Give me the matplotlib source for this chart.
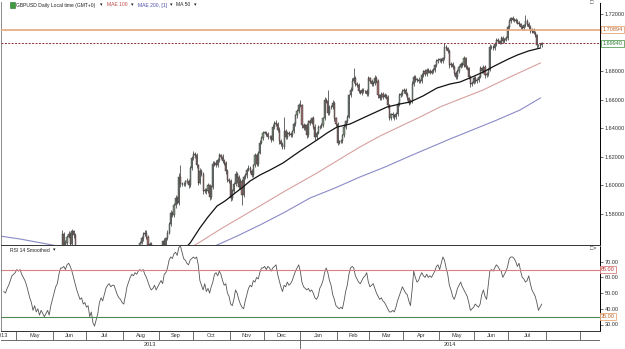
import numpy as np
import pandas as pd
import matplotlib
matplotlib.use("Agg")
import matplotlib.pyplot as plt
import matplotlib.transforms as mtrans
from matplotlib.patches import Rectangle

# ─── DAILY CLOSES, GBPUSD 19 Apr 2013 -> 29 Jul 2014 (one month per line) ───
first_open = 1.527
closes = [
    1.523, 1.526, 1.521, 1.527, 1.537, 1.542, 1.549, 1.553,
    1.554, 1.555, 1.553, 1.552, 1.548, 1.553, 1.552, 1.545, 1.537, 1.531, 1.528, 1.524, 1.519, 1.517, 1.521, 1.512, 1.514, 1.512, 1.508, 1.506, 1.513, 1.518, 1.520,
    1.532, 1.538, 1.548, 1.552, 1.553, 1.566, 1.556, 1.560, 1.564, 1.566, 1.559, 1.568, 1.565, 1.549, 1.543, 1.542, 1.545, 1.541, 1.528, 1.521,
    1.521, 1.524, 1.528, 1.515, 1.489, 1.486, 1.490, 1.508, 1.500, 1.512, 1.510, 1.518, 1.521, 1.530, 1.535, 1.533, 1.535, 1.536, 1.533, 1.534, 1.528, 1.537, 1.520,
    1.519, 1.531, 1.535, 1.537, 1.548, 1.550, 1.551, 1.549, 1.545, 1.554, 1.560, 1.563, 1.566, 1.567, 1.564, 1.558, 1.559, 1.556, 1.553, 1.556, 1.551, 1.550,
    1.555, 1.557, 1.561, 1.554, 1.563, 1.567, 1.573, 1.581, 1.579, 1.586, 1.591, 1.588, 1.606, 1.601, 1.601, 1.601, 1.603, 1.603, 1.600, 1.612, 1.619,
    1.622, 1.621, 1.614, 1.602, 1.610, 1.608, 1.596, 1.597, 1.596, 1.600, 1.592, 1.599, 1.615, 1.616, 1.614, 1.618, 1.621, 1.620, 1.617, 1.616, 1.610, 1.604, 1.603,
    1.591, 1.596, 1.601, 1.608, 1.606, 1.599, 1.603, 1.593, 1.606, 1.607, 1.611, 1.612, 1.610, 1.607, 1.614, 1.621, 1.615, 1.623, 1.630, 1.633, 1.637,
    1.637, 1.636, 1.634, 1.634, 1.632, 1.641, 1.644, 1.643, 1.639, 1.631, 1.629, 1.627, 1.638, 1.634, 1.637, 1.636, 1.635, 1.638, 1.643, 1.649, 1.652, 1.656,
    1.656, 1.642, 1.640, 1.642, 1.635, 1.645, 1.644, 1.647, 1.641, 1.634, 1.637, 1.641, 1.641, 1.642, 1.647, 1.660, 1.659, 1.651, 1.655, 1.655, 1.658, 1.647, 1.643,
    1.630, 1.631, 1.631, 1.635, 1.641, 1.645, 1.648, 1.663, 1.667, 1.673, 1.675, 1.671, 1.670, 1.666, 1.665, 1.667, 1.666, 1.666, 1.664, 1.675,
    1.673, 1.671, 1.672, 1.675, 1.673, 1.663, 1.661, 1.664, 1.662, 1.663, 1.662, 1.656, 1.647, 1.650, 1.649, 1.648, 1.650, 1.657, 1.663, 1.664, 1.666,
    1.667, 1.664, 1.661, 1.658, 1.659, 1.671, 1.676, 1.674, 1.674, 1.673, 1.673, 1.677, 1.680, 1.678, 1.681, 1.680, 1.679, 1.680, 1.681, 1.684, 1.687, 1.688,
    1.688, 1.687, 1.689, 1.697, 1.696, 1.694, 1.684, 1.685, 1.683, 1.679, 1.676, 1.680, 1.683, 1.685, 1.684, 1.689, 1.683, 1.682, 1.676, 1.671, 1.672, 1.675,
    1.673, 1.674, 1.676, 1.682, 1.680, 1.683, 1.677, 1.678, 1.681, 1.697, 1.697, 1.696, 1.699, 1.702, 1.701, 1.700, 1.703, 1.701, 1.702, 1.703, 1.711,
    1.715, 1.717, 1.716, 1.716, 1.715, 1.714, 1.713, 1.711, 1.710, 1.712, 1.715, 1.713, 1.711, 1.708, 1.709, 1.707, 1.705, 1.698, 1.698, 1.698, 1.6994,
]

# upper / lower wick beyond the body, in pips
wick_up = [
    14, 18, 10, 15, 22, 12, 16, 20,
    16, 11, 25, 13, 9, 18, 21, 12, 15, 10, 19, 14, 8, 17, 23, 11, 13, 20, 9, 16, 12, 18, 14,
    15, 10, 21, 13, 17, 30, 12, 19, 14, 24, 11, 16, 9, 20, 13, 18, 10, 15, 22, 12,
    14, 19, 11, 25, 16, 10, 18, 13, 21, 9, 17, 12, 20, 15, 11, 23, 14, 10, 19, 13, 16, 12, 18,
    11, 17, 13, 20, 9, 15, 22, 12, 18, 14, 10, 19, 13, 16, 21, 11, 15, 12, 18, 9, 14, 17,
    13, 16, 10, 21, 12, 18, 15, 19, 11, 14, 20, 13, 25, 80, 12, 16, 10, 19, 14, 13, 15,
    18, 12, 16, 10, 20, 13, 17, 11, 15, 19, 12, 14, 22, 10, 16, 13, 18, 11, 20, 14, 12, 17, 15,
    13, 16, 11, 18, 14, 10, 19, 12, 15, 17, 11, 20, 13, 16, 10, 18, 14, 12, 15, 19, 11,
    14, 12, 17, 10, 16, 19, 13, 15, 11, 18, 12, 14, 100, 16, 10, 13, 17, 11, 15, 12, 14, 18,
    40, 11, 15, 13, 19, 10, 16, 12, 14, 18, 11, 15, 13, 17, 10, 16, 12, 78, 14, 11, 15, 13, 12,
    14, 10, 16, 12, 18, 11, 15, 13, 17, 25, 73, 14, 12, 16, 10, 15, 13, 11, 14, 17,
    12, 15, 11, 25, 13, 16, 10, 14, 12, 17, 11, 15, 13, 10, 16, 12, 14, 11, 15, 13, 12,
    13, 11, 16, 12, 14, 18, 15, 11, 13, 16, 12, 14, 10, 15, 13, 11, 16, 12, 14, 10, 15, 13,
    12, 15, 11, 26, 14, 12, 16, 13, 11, 15, 12, 14, 10, 16, 13, 15, 11, 14, 12, 10, 13, 15,
    14, 11, 13, 16, 12, 15, 10, 14, 12, 18, 13, 11, 15, 12, 14, 10, 13, 16, 12, 14, 15,
    16, 12, 14, 11, 15, 13, 12, 10, 14, 12, 41, 13, 11, 15, 12, 14, 10, 13, 12, 14, 11,
]
wick_dn = [
    12, 15, 18, 10, 14, 16, 11, 13,
    14, 17, 12, 19, 22, 11, 15, 20, 13, 18, 12, 16, 21, 10, 14, 19, 12, 17, 15, 11, 18, 13, 16,
    12, 18, 14, 11, 16, 13, 20, 12, 15, 10, 19, 14, 17, 22, 12, 15, 18, 11, 16, 14,
    17, 12, 15, 20, 35, 14, 18, 11, 16, 13, 19, 12, 15, 10, 17, 14, 12, 16, 11, 18, 15, 13, 20,
    16, 12, 18, 14, 11, 15, 13, 17, 19, 12, 14, 10, 16, 13, 15, 18, 12, 14, 11, 16, 13, 15,
    14, 11, 16, 13, 12, 15, 10, 14, 13, 11, 15, 12, 14, 22, 16, 13, 15, 11, 17, 12, 14,
    13, 16, 20, 18, 12, 15, 22, 14, 17, 13, 20, 15, 12, 16, 14, 11, 13, 15, 12, 14, 17, 19, 13,
    22, 14, 16, 12, 40, 15, 13, 65, 14, 12, 15, 11, 16, 13, 14, 12, 15, 11, 13, 12, 14,
    13, 15, 12, 14, 16, 11, 13, 15, 17, 19, 14, 16, 12, 14, 13, 15, 11, 14, 12, 13, 15, 12,
    14, 16, 13, 12, 18, 11, 14, 13, 15, 19, 14, 12, 13, 11, 12, 14, 13, 16, 15, 12, 14, 17, 15,
    16, 12, 14, 11, 13, 12, 14, 11, 13, 12, 14, 16, 13, 15, 12, 14, 11, 13, 15, 12,
    13, 15, 12, 14, 11, 16, 13, 12, 15, 11, 13, 16, 14, 12, 15, 19, 13, 11, 12, 14, 13,
    12, 14, 15, 17, 13, 11, 12, 14, 13, 12, 15, 11, 13, 12, 14, 11, 13, 12, 11, 13, 12, 11,
    13, 12, 11, 12, 14, 16, 15, 13, 14, 16, 15, 12, 13, 11, 14, 12, 15, 13, 16, 18, 13, 12,
    14, 12, 13, 11, 14, 12, 15, 13, 12, 11, 13, 14, 12, 11, 13, 12, 11, 13, 12, 11, 12,
    13, 11, 12, 14, 12, 13, 11, 14, 13, 12, 11, 13, 14, 12, 13, 11, 14, 15, 13, 12, 14,
]

# RSI 14 smoothed, daily
rsi = [
    51, 50, 53, 55, 58, 61, 62, 63,
    65, 64, 65, 62, 60, 58, 55, 51, 47, 44, 39, 42, 38, 40, 36, 39, 37, 35, 37, 39, 36, 42, 46,
    50, 54, 56, 62, 66, 66, 67, 65, 68, 69, 67, 64, 60, 56, 52, 49, 46, 47, 43, 44,
    41, 42, 35, 38, 31, 29, 33, 37, 44, 47, 45, 49, 53, 55, 56, 54, 55, 55, 52, 49, 47, 46, 44,
    43, 48, 54, 57, 60, 62, 61, 63, 62, 64, 65, 64, 65, 62, 60, 57, 54, 52, 53, 55, 52, 54,
    56, 58, 56, 62, 63, 66, 71, 73, 72, 75, 76, 74, 79, 80, 76, 72, 71, 69, 68, 71, 72,
    73, 72, 73, 68, 58, 55, 52, 56, 51, 53, 50, 54, 57, 62, 63, 61, 64, 62, 58, 55, 56, 50, 48,
    43, 42, 46, 52, 50, 46, 43, 41, 40, 45, 49, 53, 55, 54, 58, 57, 60, 59, 63, 66, 66,
    67, 65, 67, 66, 64, 66, 67, 68, 62, 58, 54, 51, 55, 54, 57, 55, 56, 58, 61, 64, 66, 68,
    64, 57, 54, 53, 52, 53, 51, 52, 50, 47, 46, 48, 53, 55, 58, 63, 66, 63, 58, 55, 49, 46, 42,
    41, 40, 41, 40, 45, 51, 55, 62, 66, 67, 66, 61, 59, 57, 56, 58, 60, 61, 63, 57,
    54, 55, 56, 53, 50, 48, 46, 47, 45, 44, 42, 40, 38, 38, 39, 38, 41, 45, 48, 51, 54,
    52, 50, 49, 45, 42, 52, 64, 60, 57, 58, 61, 63, 61, 60, 62, 60, 61, 60, 62, 64, 67, 68,
    65, 69, 73, 71, 66, 62, 55, 52, 48, 46, 49, 53, 55, 57, 54, 52, 50, 48, 44, 39, 40, 41,
    43, 42, 41, 43, 49, 52, 48, 46, 55, 64, 65, 64, 66, 68, 67, 65, 64, 60, 62, 64, 67,
    72, 73, 73, 72, 70, 67, 69, 64, 60, 59, 57, 58, 61, 56, 52, 50, 48, 44, 39, 41, 43,
]

# moving averages (day index, price)
ma50_day = [105, 115, 121, 126, 131.6, 136.5, 142, 147.6, 152, 158.1, 164.3, 172.3, 182.9,
            193.3, 199.5, 205.7, 213.7, 223, 236.5, 244.5, 250.7, 258.7, 267.4, 275.4,
            281.6, 289, 296, 301.6, 306.5, 311.5, 317, 323.8, 331.2]
ma50_val = [1.5480, 1.5597, 1.5702, 1.5779, 1.5856, 1.5891, 1.5940, 1.5989, 1.6031, 1.6073,
            1.6108, 1.6157, 1.6241, 1.6318, 1.6367, 1.6409, 1.6430, 1.6479, 1.6549, 1.6570,
            1.6584, 1.6626, 1.6682, 1.6710, 1.6724, 1.6759, 1.6794, 1.6829, 1.6857, 1.6885,
            1.6913, 1.6941, 1.6962]
mae100_day = [110, 121.1, 133.4, 153.8, 173.6, 193.3, 207.5, 219.8, 232.2, 256.9, 269.2,
              281.6, 295.8, 312.4, 331.2]
mae100_val = [1.5530, 1.5604, 1.5692, 1.5828, 1.5961, 1.6087, 1.6185, 1.6269, 1.6346, 1.6479,
              1.6549, 1.6605, 1.6668, 1.6759, 1.6857]
mae200_day = [-2, 10, 29, 60, 100, 115, 131.6, 142.7, 158.1, 173.6, 189, 204.4, 219.8,
              235.3, 250.7, 275.4, 304.4, 318.6, 331.2]
mae200_val = [1.5645, 1.5625, 1.5585, 1.5520, 1.5480, 1.5520, 1.5583, 1.5639, 1.5723, 1.5814,
              1.5912, 1.5982, 1.6059, 1.6129, 1.6206, 1.6325, 1.6458, 1.6528, 1.6612]

resistance = 1.70894
last_price = 1.69940
rsi_hi, rsi_lo = 65, 35
price_ticks = [1.58, 1.60, 1.62, 1.64, 1.66, 1.68, 1.72]
rsi_ticks = [30, 40, 50, 60, 70]
month_names = ["May", "Jun", "Jul", "Aug", "Sep", "Oct", "Nov", "Dec",
               "Jan", "Feb", "Mar", "Apr", "May", "Jun", "Jul"]

assert len(closes) == len(wick_up) == len(wick_dn) == len(rsi) == 333

# ─── LAYOUT (pixels) ─────────────────────────────────────────────
W, H = 625, 349
PX_DAY = 1.62             # pixels per trading day
X0_PX, X0_DAY = 16, 7.5   # 1 May 2013 boundary
FONT = ["Liberation Sans Narrow", "Liberation Sans", "DejaVu Sans"]
plt.rcParams["font.family"] = FONT

def fx(px):
    return px / W

def fy(py):
    return 1 - py / H

def day_at(px):
    return X0_DAY + (px - X0_PX) / PX_DAY

xlo, xhi = day_at(1), day_at(600)

fig = plt.figure(figsize=(W / 100, H / 100), dpi=100)
ax = fig.add_axes([fx(1), fy(245), 599 / W, 243 / H])
axr = fig.add_axes([fx(1), fy(331), 599 / W, 85 / H])
axd = fig.add_axes([fx(1), fy(349), 599 / W, 18 / H])

# ─── CANDLES ─────────────────────────────────────────────────────
c = np.array(closes)
o = np.r_[first_open, c[:-1]]
x = np.arange(len(c))
hi = np.maximum(o, c) + np.array(wick_up) * 1e-4
lo = np.minimum(o, c) - np.array(wick_dn) * 1e-4
up = c >= o
ax.vlines(x, lo, hi, colors="#2e2e2e", lw=0.5, zorder=2)
ax.bar(x, np.maximum(np.abs(c - o), 2e-4), bottom=np.minimum(o, c), width=0.72,
       color=np.where(up, "#7f917f", "#a06f6f"), edgecolor="#2e2e2e", linewidth=0.3, zorder=3)

ax.plot(mae200_day, mae200_val, color="#8a8ac8", lw=0.8, zorder=1)
ax.plot(mae100_day, mae100_val, color="#d6a0a0", lw=0.8, zorder=1)
ax.plot(ma50_day, ma50_val, color="#111111", lw=0.9, zorder=4)

ax.axhline(resistance, color="#e8a77a", lw=1.2, zorder=5)
ax.axhline(last_price, color="#8e2f3c", lw=0.7, ls=(0, (2, 1.5)), zorder=5)

ax.set_xlim(xlo, xhi)
ax.set_ylim(1.72 - 231 / 1428.6, 1.72 + 12 / 1428.6)
ax.yaxis.tick_right()
ax.set_yticks(price_ticks)
ax.set_yticklabels([f"{t:.5f}" for t in price_ticks])
ax.set_xticks([])

blend = mtrans.blended_transform_factory(ax.transAxes, ax.transData)
ax.text(1.004, resistance, f"{resistance:.5f}", transform=blend, ha="left", va="center",
        fontsize=4, color="#c0622a", clip_on=False,
        bbox=dict(boxstyle="square,pad=0.2", fc="white", ec="#e8a77a", lw=0.6))
ax.text(1.004, last_price, f"{last_price:.5f}", transform=blend, ha="left", va="center",
        fontsize=4, color="#2e7d32", clip_on=False,
        bbox=dict(boxstyle="square,pad=0.2", fc="white", ec="#5aa05a", lw=0.6))

# ─── RSI PANEL ───────────────────────────────────────────────────
axr.plot(x, rsi, color="#555555", lw=0.6)
axr.axhline(rsi_hi, color="#d98080", lw=0.8)
axr.axhline(rsi_lo, color="#4f8a4f", lw=0.8)
axr.set_xlim(xlo, xhi)
axr.set_ylim(70 - 69.3 / 1.57, 70 + 15.7 / 1.57)
axr.yaxis.tick_right()
axr.set_yticks(rsi_ticks)
axr.set_yticklabels([f"{t:.2f}" for t in rsi_ticks])
axr.set_xticks([])
blend_r = mtrans.blended_transform_factory(axr.transAxes, axr.transData)
axr.text(1.002, rsi_hi, f"{rsi_hi:.2f}", transform=blend_r, ha="left", va="center",
         fontsize=4, color="#c03030", clip_on=False,
         bbox=dict(boxstyle="square,pad=0.2", fc="white", ec="#d98080", lw=0.6))
axr.text(1.002, rsi_lo, f"{rsi_lo:.2f}", transform=blend_r, ha="left", va="center",
         fontsize=4, color="#c0622a", clip_on=False,
         bbox=dict(boxstyle="square,pad=0.2", fc="white", ec="#e8a77a", lw=0.6))

for a in (ax, axr):
    a.tick_params(axis="y", labelsize=4, length=2, width=0.5, pad=1.5, colors="#333333")
    a.spines["right"].set_linestyle((0, (1, 1)))
    a.spines["right"].set_linewidth(0.7)
    a.spines["top"].set_visible(False)
    a.spines["left"].set_color("#777777")
    a.spines["left"].set_linewidth(0.6)
    a.spines["bottom"].set_color("#333333")
    a.spines["bottom"].set_linewidth(0.7)

# ─── DATE ROWS ───────────────────────────────────────────────────
bdays = pd.bdate_range("2013-04-19", "2014-09-30")
month_start = [i - 0.5 for i in range(1, len(bdays)) if bdays[i].month != bdays[i - 1].month]
axd.set_xlim(xlo, xhi)
axd.set_ylim(0, 2)
axd.axis("off")
axd.axhline(1, color="#555555", lw=0.6)
axd.axhline(0.02, color="#555555", lw=0.6)
axd.vlines(month_start, 1, 2, color="#555555", lw=0.6)
for k, name in enumerate(month_names):
    axd.text((month_start[k] + month_start[k + 1]) / 2, 1.45, name, ha="center",
             va="center", fontsize=4, color="#333333")
axd.text(day_at(8), 1.45, "2013", ha="right", va="center", fontsize=4, color="#333333",
         clip_on=False)
jan14 = month_start[8]
axd.vlines([jan14, xhi - 0.2], 0, 1, color="#555555", lw=0.6)
axd.text((xlo + jan14) / 2, 0.45, "2013", ha="center", va="center", fontsize=4, color="#333333")
axd.text((jan14 + xhi) / 2, 0.45, "2014", ha="center", va="center", fontsize=4, color="#333333")

# ─── HEADER TEXT (chained left to right) ─────────────────────────
renderer = fig.canvas.get_renderer()

def chain(x_px, y_px, parts, size=3.6):
    for txt, col, gap in parts:
        t = fig.text(fx(x_px), fy(y_px), txt, fontsize=size, color=col, ha="left", va="center")
        x_px = t.get_window_extent(renderer).x1 + gap

fig.patches.append(Rectangle((fx(10), fy(8)), 5 / W, 6 / H, transform=fig.transFigure,
                             fc="#3f9a3f", ec="#2d6e2d", lw=0.4))
chain(16, 5, [("GBPUSD Daily Local time (GMT+0)", "#222222", 5), ("\u25be", "#222222", 4),
              ("MAE 100", "#c04848", 4), ("\u25be", "#222222", 4),
              ("MAE 200, [1]", "#4a4aa8", 3), ("\u25be", "#222222", 4),
              ("MA 50", "#222222", 3), ("\u25be", "#222222", 0)])
chain(10, 250, [("RSI 14 Smoothed", "#222222", 3), ("\u25be", "#222222", 0)])
fig.text(fx(590), fy(3), "\u25a1", fontsize=4, color="#444444", ha="left", va="center")
fig.text(fx(590), fy(248), "\u25a1\u00d7", fontsize=4, color="#444444", ha="left", va="center")

fig.savefig("out.png", dpi=100)
